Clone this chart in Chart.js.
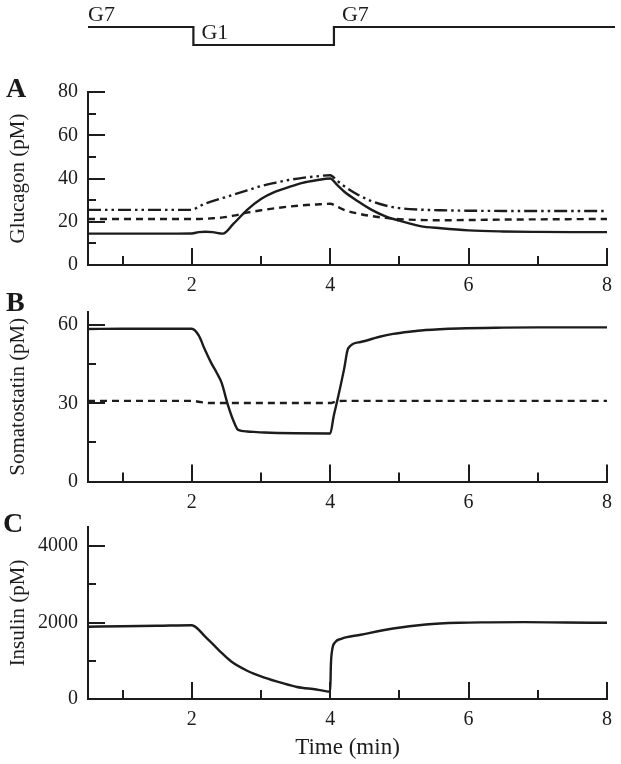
<!DOCTYPE html>
<html>
<head>
<meta charset="utf-8">
<script src="https://cdn.jsdelivr.net/npm/chart.js@4.4.0/dist/chart.umd.min.js"></script>
<style>
body { margin: 0; background: #fff; width: 621px; height: 764px; position: relative; overflow: hidden; }
canvas { position: absolute; left: 0; }
.tag { position: absolute; font: bold 28px "Liberation Serif", serif; line-height: 1; color: #1a1a1a; }
</style>
</head>
<body>
<canvas id="protocolChart" width="621" height="60" style="top:0"></canvas>
<canvas id="glucagonChart" width="621" height="230" style="top:70px"></canvas>
<canvas id="somatostatinChart" width="621" height="225" style="top:290px"></canvas>
<canvas id="insulinChart" width="621" height="259" style="top:505px"></canvas>
<div class="tag" style="left:6px;top:74px">A</div>
<div class="tag" style="left:6px;top:288px">B</div>
<div class="tag" style="left:3px;top:509px">C</div>
<script>
// shared time axis
const timeTicks = [1, 2, 3, 4, 5, 6, 7, 8];
const timeLabels = [2, 4, 6, 8];

// glucose protocol on top
const protocolTime = [0.5, 2, 2, 4, 4, 8];
const protocolLevel = [1, 1, 0, 0, 1, 1];
const protocolNames = ['G7', 'G1', 'G7'];
const protocolNameTime = [0.5, 2, 4];
const protocolNameLevel = [1, 0, 1];

// A - glucagon
const glucTime = [0.5, 1, 1.5, 2, 2.1, 2.2, 2.3, 2.45, 2.6, 2.8, 3, 3.2, 3.4, 3.6, 3.8, 4, 4.1, 4.2, 4.4, 4.6, 4.8, 5, 5.3, 5.6, 6, 6.5, 7, 7.5, 8];
const glucSolid = [14.5, 14.5, 14.5, 14.6, 15.2, 15.4, 15.2, 14.5, 19, 25.5, 30.5, 33.8, 36, 38, 39.2, 40, 37, 34, 29.5, 25.5, 22.5, 20.5, 18, 17, 16, 15.5, 15.3, 15.2, 15.2];
const glucDashed = [21.3, 21.3, 21.3, 21.3, 21.3, 21.4, 21.6, 22, 22.8, 24.2, 25.3, 26.2, 27, 27.6, 28, 28.3, 27, 25.5, 23.8, 22.6, 21.8, 21.2, 20.8, 20.7, 20.8, 21, 21.1, 21.2, 21.3];
const glucDashDot = [25.5, 25.5, 25.5, 25.5, 27, 28.5, 29.5, 31, 32.5, 34.5, 36.5, 38, 39.3, 40.3, 41, 41.5, 39, 36.5, 32.5, 29.5, 27.5, 26.3, 25.6, 25.3, 25.1, 25, 25, 25, 25];
const glucTicks = [0, 10, 20, 30, 40, 50, 60, 70, 80];
const glucLabels = [0, 20, 40, 60, 80];

// B - somatostatin
const somTime = [0.5, 1, 1.5, 2, 2.1, 2.19, 2.28, 2.36, 2.43, 2.52, 2.6, 2.67, 2.8, 3.05, 3.5, 4, 4.05, 4.11, 4.2, 4.26, 4.44, 4.7, 4.91, 5.2, 5.38, 5.86, 6.5, 7, 8];
const somSolid = [58.5, 58.6, 58.6, 58.6, 56, 50.5, 45.5, 41.7, 37.9, 29.5, 23.4, 19.8, 19.2, 18.8, 18.5, 18.4, 25, 31.9, 43, 51.1, 53.5, 55.4, 56.6, 57.6, 58.1, 58.7, 59, 59.1, 59.1];
const somDashed = [30.9, 30.9, 30.9, 30.9, 30.6, 30.2, 30.1, 30.1, 30.1, 30.1, 30.1, 30.1, 30.1, 30.1, 30.1, 30.1, 30.4, 30.8, 30.9, 30.9, 30.9, 30.9, 30.9, 30.9, 30.9, 30.9, 30.9, 30.9, 30.9];
const somTicks = [0, 15, 30, 45, 60];
const somLabels = [0, 30, 60];

// C - insulin
const insTime = [0.5, 1, 1.5, 2, 2.19, 2.4, 2.57, 2.8, 3.05, 3.3, 3.52, 3.8, 4, 4.01, 4.03, 4.07, 4.16, 4.44, 4.91, 5.38, 5.86, 6.3, 6.8, 7.4, 8];
const insSolid = [1890, 1905, 1915, 1930, 1640, 1260, 980, 740, 560, 420, 315, 250, 190, 900, 1300, 1480, 1575, 1680, 1845, 1950, 1995, 2005, 2010, 2000, 1995];
const insTicks = [0, 1000, 2000, 3000, 4000];
const insLabels = [0, 2000, 4000];

const ink = '#1c1c1c';
const serif = '"Liberation Serif", "Times New Roman", serif';

function points(xs, ys) {
    return xs.map((x, i) => ({ x: x, y: ys[i] }));
}

function line(xs, ys, dash) {
    return {
        data: points(xs, ys),
        borderColor: ink,
        borderWidth: 2.4,
        borderDash: dash || [],
        pointRadius: 0,
        fill: false,
        cubicInterpolationMode: 'monotone'
    };
}

// ticks point into the plot, long ones where there is a label
const inwardTicks = {
    id: 'inwardTicks',
    afterDraw(chart) {
        const ctx = chart.ctx;
        const area = chart.chartArea;
        const sx = chart.scales.x;
        const sy = chart.scales.y;
        ctx.save();
        ctx.strokeStyle = ink;
        ctx.lineWidth = 2;
        ctx.beginPath();
        sx.ticks.forEach(t => {
            const px = Math.round(sx.getPixelForValue(t.value));
            const len = t.label !== '' ? 17 : 9;
            ctx.moveTo(px, area.bottom);
            ctx.lineTo(px, area.bottom - len);
        });
        sy.ticks.forEach(t => {
            const py = Math.round(sy.getPixelForValue(t.value));
            const len = t.label !== '' ? 17 : 8;
            ctx.moveTo(area.left, py);
            ctx.lineTo(area.left + len, py);
        });
        ctx.stroke();
        ctx.restore();
    }
};

function makePanel(id, datasets, yMax, yTicks, yLabels, yTitle, top, xHeight, xTitle) {
    return new Chart(document.getElementById(id), {
        type: 'line',
        data: { datasets: datasets },
        options: {
            responsive: false,
            animation: false,
            events: [],
            layout: { padding: { top: top, right: 6, left: 0, bottom: 0 } },
            plugins: { legend: { display: false }, tooltip: { enabled: false } },
            scales: {
                x: {
                    type: 'linear',
                    min: 0.5,
                    max: 8,
                    afterBuildTicks: s => { s.ticks = timeTicks.map(v => ({ value: v })); },
                    afterFit: s => { s.height = xHeight; },
                    grid: { drawOnChartArea: false, drawTicks: false },
                    border: { color: ink, width: 2 },
                    ticks: {
                        autoSkip: false,
                        maxRotation: 0,
                        padding: 9,
                        color: ink,
                        font: { family: serif, size: 20 },
                        callback: v => timeLabels.includes(v) ? String(v) : ''
                    },
                    title: {
                        display: !!xTitle,
                        text: xTitle || '',
                        color: ink,
                        font: { family: serif, size: 23 },
                        padding: { top: 0, bottom: 2 }
                    }
                },
                y: {
                    min: 0,
                    max: yMax,
                    afterBuildTicks: s => { s.ticks = yTicks.map(v => ({ value: v })); },
                    afterFit: s => { s.width = 88; },
                    grid: { drawOnChartArea: false, drawTicks: false },
                    border: { color: ink, width: 2 },
                    ticks: {
                        autoSkip: false,
                        padding: 10,
                        color: ink,
                        font: { family: serif, size: 20 },
                        callback: v => yLabels.includes(v) ? String(v) : ''
                    },
                    title: {
                        display: true,
                        text: yTitle,
                        color: ink,
                        font: { family: serif, size: 21 },
                        padding: { top: 6, bottom: 0 }
                    }
                }
            }
        },
        plugins: [inwardTicks]
    });
}

// protocol names written next to the step line
const protocolText = {
    id: 'protocolText',
    afterDraw(chart) {
        const ctx = chart.ctx;
        const sx = chart.scales.x;
        const sy = chart.scales.y;
        ctx.save();
        ctx.fillStyle = ink;
        ctx.font = '22px ' + serif;
        ctx.textBaseline = 'alphabetic';
        protocolNames.forEach((name, i) => {
            let px = sx.getPixelForValue(protocolNameTime[i]);
            if (i > 0) px += 8;
            ctx.fillText(name, px, sy.getPixelForValue(protocolNameLevel[i]) - 6);
        });
        ctx.restore();
    }
};

new Chart(document.getElementById('protocolChart'), {
    type: 'line',
    data: {
        datasets: [{
            data: points(protocolTime, protocolLevel),
            borderColor: ink,
            borderWidth: 2.2,
            pointRadius: 0,
            tension: 0,
            clip: false
        }]
    },
    options: {
        responsive: false,
        animation: false,
        events: [],
        layout: { padding: { top: 27, bottom: 15, left: 88, right: 6 } },
        plugins: { legend: { display: false }, tooltip: { enabled: false } },
        scales: {
            x: { type: 'linear', min: 0.5, max: 8, display: false },
            y: { min: 0, max: 1, display: false }
        }
    },
    plugins: [protocolText]
});

makePanel('glucagonChart', [
    line(glucTime, glucSolid),
    line(glucTime, glucDashed, [7, 5]),
    line(glucTime, glucDashDot, [13, 4, 2.5, 4, 2.5, 4])
], 80, glucTicks, glucLabels, 'Glucagon (pM)', 14, 35);

makePanel('somatostatinChart', [
    line(somTime, somSolid),
    line(somTime, somDashed, [7, 5])
], 65, somTicks, somLabels, 'Somatostatin (pM)', 12, 33.5);

makePanel('insulinChart', [
    line(insTime, insSolid)
], 4500, insTicks, insLabels, 'Insulin (pM)', 13, 65, 'Time (min)');
</script>
</body>
</html>
